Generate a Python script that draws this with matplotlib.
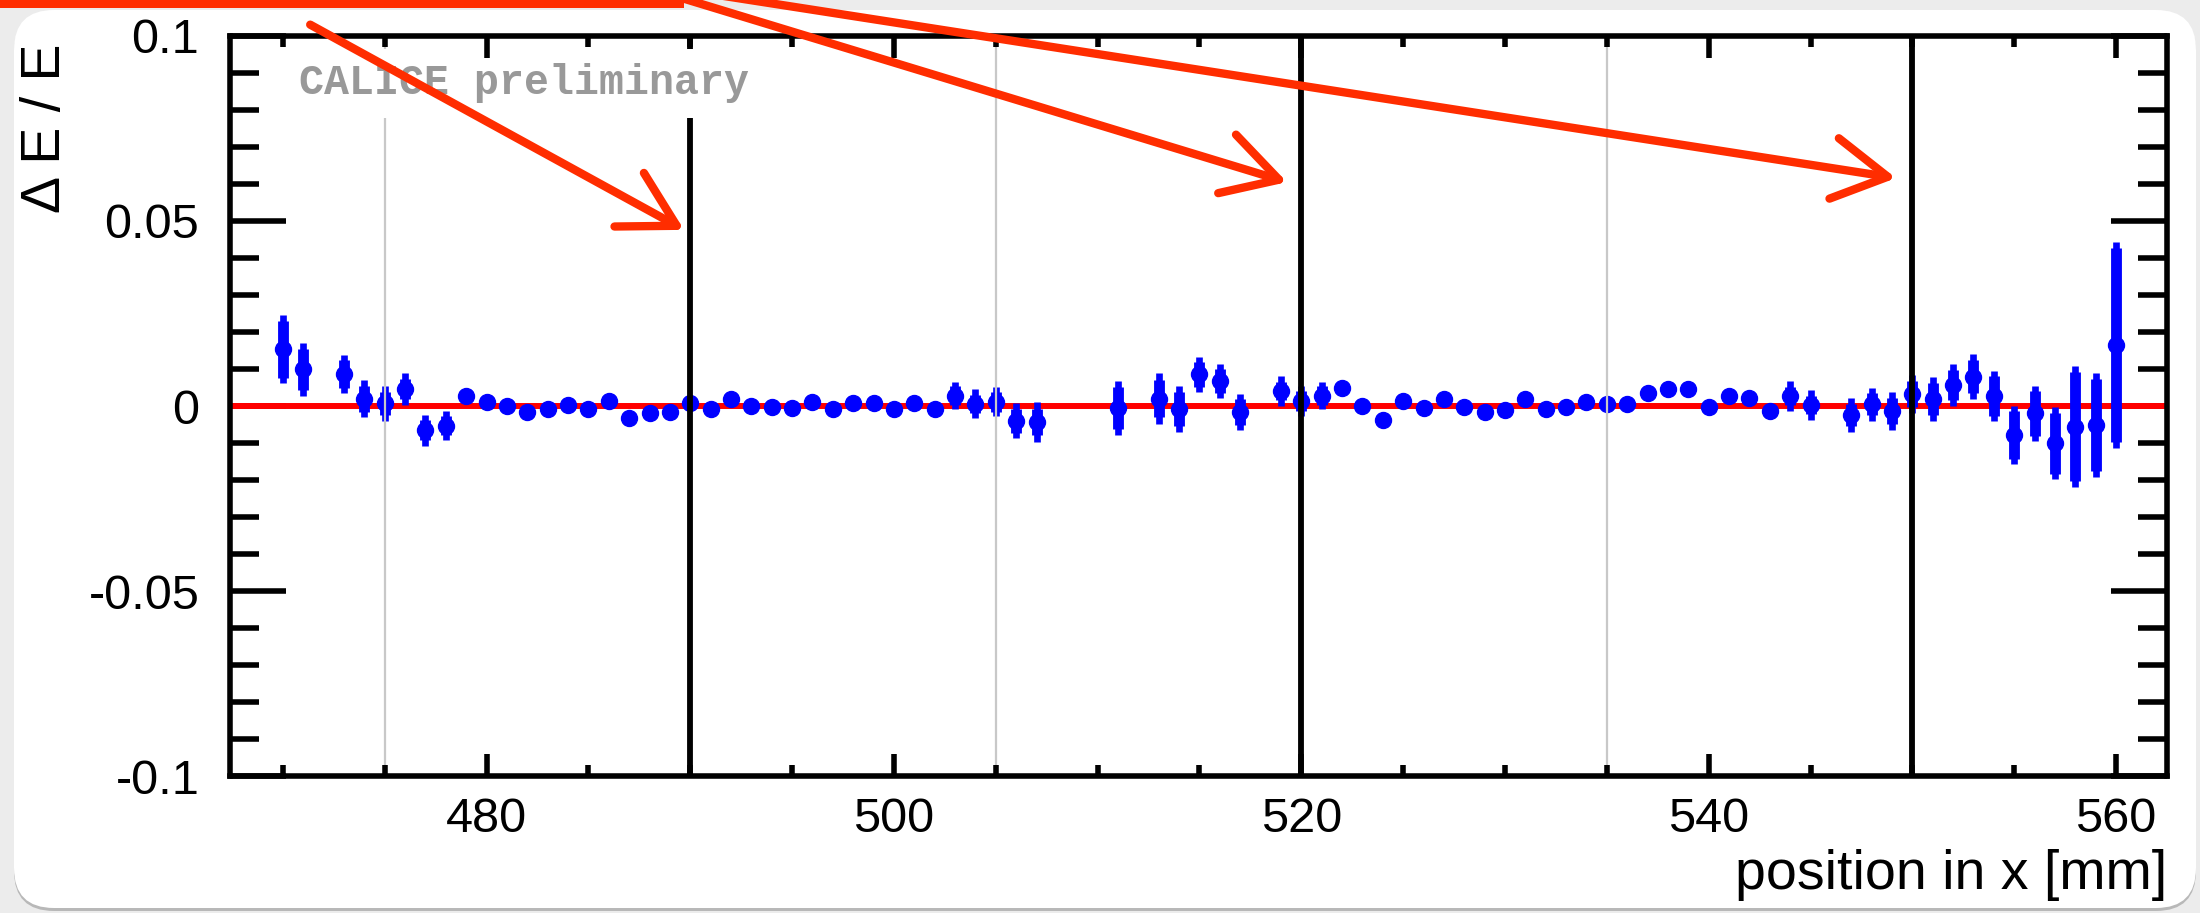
import matplotlib
matplotlib.use("Agg")
import matplotlib.pyplot as plt
from matplotlib.patches import FancyBboxPatch, Rectangle
from matplotlib.ticker import MultipleLocator
from matplotlib.transforms import IdentityTransform

plt.rcParams['font.family'] = ['Liberation Sans', 'DejaVu Sans']
plt.rcParams['axes.unicode_minus'] = False

# scan position in x [mm]
pos = [470, 471, 473, 474, 475, 476, 477, 478, 479, 480, 481, 482, 483, 484,
       485, 486, 487, 488, 489, 490, 491, 492, 493, 494, 495, 496, 497, 498,
       499, 500, 501, 502, 503, 504, 505, 506, 507, 511, 513, 514, 515, 516,
       517, 519, 520, 521, 522, 523, 524, 525, 526, 527, 528, 529, 530, 531,
       532, 533, 534, 535, 536, 537, 538, 539, 540, 541, 542, 543, 544, 545,
       547, 548, 549, 550, 551, 552, 553, 554, 555, 556, 557, 558, 559, 560]
# relative energy deviation dE/E
dE = [0.0154, 0.0099, 0.0086, 0.0019, 0.0007, 0.0046, -0.0065, -0.0053, 0.0028, 0.0010,
      0.0000, -0.0017, -0.0007, 0.0004, -0.0007, 0.0014, -0.0033, -0.0018, -0.0017, 0.0008,
      -0.0008, 0.0019, 0.0000, -0.0002, -0.0005, 0.0012, -0.0008, 0.0008, 0.0008, -0.0007,
      0.0008, -0.0009, 0.0028, 0.0006, 0.0012, -0.0040, -0.0043, -0.0005, 0.0020, -0.0008,
      0.0086, 0.0068, -0.0016, 0.0040, 0.0014, 0.0028, 0.0048, 0.0001, -0.0039, 0.0013,
      -0.0006, 0.0018, -0.0004, -0.0017, -0.0011, 0.0018, -0.0009, -0.0004, 0.0012, 0.0005,
      0.0005, 0.0036, 0.0045, 0.0045, -0.0002, 0.0027, 0.0021, -0.0013, 0.0027, 0.0003,
      -0.0024, 0.0005, -0.0013, 0.0032, 0.0019, 0.0057, 0.0079, 0.0027, -0.0078, -0.0020,
      -0.0101, -0.0056, -0.0051, 0.0165]
# total error (thin bar) and statistical error (thick bar)
err_out = [0.0092, 0.0071, 0.0052, 0.0050, 0.0048, 0.0043, 0.0042, 0.0039, 0.0015, 0.0015,
           0.0015, 0.0015, 0.0015, 0.0015, 0.0015, 0.0015, 0.0015, 0.0015, 0.0015, 0.0015,
           0.0015, 0.0015, 0.0015, 0.0015, 0.0015, 0.0015, 0.0015, 0.0015, 0.0015, 0.0015,
           0.0015, 0.0015, 0.0037, 0.0039, 0.0040, 0.0047, 0.0053, 0.0073, 0.0068, 0.0062,
           0.0047, 0.0046, 0.0049, 0.0040, 0.0040, 0.0037, 0.0015, 0.0015, 0.0015, 0.0015,
           0.0015, 0.0015, 0.0015, 0.0015, 0.0015, 0.0015, 0.0015, 0.0015, 0.0015, 0.0015,
           0.0015, 0.0015, 0.0015, 0.0015, 0.0015, 0.0015, 0.0015, 0.0015, 0.0040, 0.0040,
           0.0045, 0.0045, 0.0052, 0.0052, 0.0059, 0.0056, 0.0061, 0.0068, 0.0079, 0.0074,
           0.0097, 0.0163, 0.0140, 0.0279]
err_in = [0.0077, 0.0056, 0.0038, 0.0034, 0.0032, 0.0027, 0.0027, 0.0026, 0.0010, 0.0010,
          0.0010, 0.0010, 0.0010, 0.0010, 0.0010, 0.0010, 0.0010, 0.0010, 0.0010, 0.0010,
          0.0010, 0.0010, 0.0010, 0.0010, 0.0010, 0.0010, 0.0010, 0.0010, 0.0010, 0.0010,
          0.0010, 0.0010, 0.0025, 0.0025, 0.0027, 0.0032, 0.0036, 0.0056, 0.0051, 0.0046,
          0.0034, 0.0033, 0.0034, 0.0025, 0.0027, 0.0025, 0.0010, 0.0010, 0.0010, 0.0010,
          0.0010, 0.0010, 0.0010, 0.0010, 0.0010, 0.0010, 0.0010, 0.0010, 0.0010, 0.0010,
          0.0010, 0.0010, 0.0010, 0.0010, 0.0010, 0.0010, 0.0010, 0.0010, 0.0025, 0.0025,
          0.0030, 0.0030, 0.0036, 0.0035, 0.0043, 0.0040, 0.0045, 0.0053, 0.0064, 0.0060,
          0.0082, 0.0148, 0.0124, 0.0261]

edges = [490, 520, 550]      # module borders
mids = [475, 505, 535]       # grey guide lines
yticks = [-0.1, -0.05, 0, 0.05, 0.1]
ylabels = ['-0.1', '-0.05', '0', '0.05', '0.1']
# where the red arrows point (x in mm, dE/E)
arrow_tips = [(489.7, 0.0476), (519.3, 0.0605), (549.2, 0.0616)]
arrow_tails = [(0.141, 0.973), (0.291, 1.016), (0.282, 1.022)]

red = '#ff2d00'

fig = plt.figure(figsize=(22, 9.13), dpi=100, facecolor='#ececec')

# slide frame with shadow
fig.add_artist(FancyBboxPatch((14, 2), 2182, 898, boxstyle='round,pad=0,rounding_size=40',
                              transform=IdentityTransform(), fc='#b8b8b8', ec='none', zorder=-3))
fig.add_artist(FancyBboxPatch((14, 5), 2182, 898, boxstyle='round,pad=0,rounding_size=40',
                              transform=IdentityTransform(), fc='white', ec='none', zorder=-2))

ax = fig.add_axes([0.1045, 0.15, 0.8805, 0.8106])
ax.set_facecolor('white')

ax.axhline(0, color='red', lw=4.3, zorder=2)
eb = ax.errorbar(pos, dE, yerr=err_out, fmt='none', ecolor='blue', elinewidth=4.8, zorder=3)
eb[2][0].set_capstyle('butt')
eb = ax.errorbar(pos, dE, yerr=err_in, fmt='none', ecolor='blue', elinewidth=7.8, zorder=3)
eb[2][0].set_capstyle('butt')
ax.plot(pos, dE, 'o', color='blue', ms=11.5, mec='blue', zorder=3)

for xe in edges:
    ax.axvline(xe, color='black', lw=4.2, zorder=4)
for xm in mids:
    ax.axvline(xm, color='#c8c8c8', lw=1.6, zorder=4)

ax.text(470.8, 0.0872, 'CALICE preliminary', family='Liberation Mono', weight='bold',
        fontsize=30, color='#999999', va='center', ha='left', zorder=5,
        bbox=dict(fc='white', ec='none', boxstyle='square,pad=0.35'))

ax.set_xlim(467.4, 562.5)
ax.set_ylim(-0.1, 0.1)
ax.set_xticks([480, 500, 520, 540, 560])
ax.xaxis.set_minor_locator(MultipleLocator(5))
ax.set_yticks(yticks)
ax.set_yticklabels(ylabels)
ax.yaxis.set_minor_locator(MultipleLocator(0.01))

for s in ax.spines.values():
    s.set_linewidth(4.0)
    s.set_zorder(6)
# top ticks drawn over the label box
ax.xaxis.set_zorder(6)
ax.tick_params(which='both', direction='in', top=True, right=True, width=4, labelsize=35)
ax.tick_params(axis='x', which='major', length=16, pad=15)
ax.tick_params(axis='x', which='minor', length=8)
ax.tick_params(axis='y', which='major', length=40, pad=22)
ax.tick_params(axis='y', which='minor', length=21)

ax.set_xlabel('position in x [mm]', fontsize=40, ha='right', va='center')
ax.xaxis.set_label_coords(1.0, -0.134)
ax.set_ylabel('Δ E / E', fontsize=40, ha='right', va='center')
ax.yaxis.set_label_coords(-0.095, 0.99)

# red hand-drawn style arrows pointing at the module borders
fig.add_artist(Rectangle((0, 1 - 8 / 913), 684 / 2200, 8 / 913, transform=fig.transFigure,
                         fc=red, ec='none', zorder=10))
for tip, tail in zip(arrow_tips, arrow_tails):
    ax.annotate('', xy=tip, xycoords='data', xytext=tail, textcoords='figure fraction',
                annotation_clip=False, zorder=10,
                arrowprops=dict(arrowstyle='->,head_length=3.9,head_width=2.2', color=red,
                                lw=6, shrinkA=0, shrinkB=0))

fig.savefig('out.png', dpi=100, facecolor=fig.get_facecolor())
